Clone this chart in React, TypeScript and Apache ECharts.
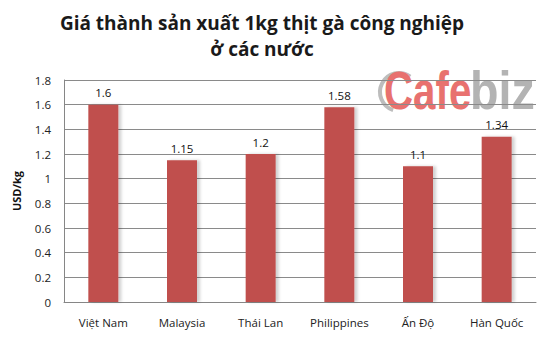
import React, { useEffect, useRef } from "react";
import * as echarts from "echarts";

const categories = ["Việt Nam", "Malaysia", "Thái Lan", "Philippines", "Ấn Độ", "Hàn Quốc"];
const values = [1.6, 1.15, 1.2, 1.58, 1.1, 1.34];
const titleLines = ["Giá thành sản xuất 1kg thịt gà công nghiệp", "ở các nước"];
const yAxisName = "USD/kg";

const FONT = "'Open Sans', 'Noto Sans', sans-serif";

export default function App() {
  const ref = useRef<HTMLDivElement>(null);
  useEffect(() => {
    if (!ref.current) return;
    const chart = echarts.init(ref.current, null, { renderer: "svg" });
    chart.setOption({
      animation: false,
      backgroundColor: "#ffffff",
      title: {
        text: titleLines.join("\n"),
        left: 257,
        textAlign: "center",
        top: 5,
        textStyle: {
          fontFamily: FONT,
          fontSize: 19,
          fontWeight: "bold",
          color: "#1a1a1a",
          lineHeight: 26,
        },
      },
      graphic: [
        {
          type: "arc",
          z: 0,
          shape: { cx: 399, cy: 92, r: 19, startAngle: Math.PI * 0.6, endAngle: Math.PI * 1.7 },
          style: { stroke: "#bdbdbd", lineWidth: 4, fill: "none" },
        },
        {
          type: "text",
          z: 0,
          x: 384,
          y: 64,
          scaleX: 0.76,
          style: {
            text: "Cafe",
            fontFamily: "'Liberation Sans', sans-serif",
            fontSize: 53,
            fontWeight: "bold",
            fill: "#e8716f",
          },
        },
        {
          type: "text",
          z: 0,
          x: 470,
          y: 64,
          scaleX: 0.88,
          style: {
            text: "biz",
            fontFamily: "'Liberation Sans', sans-serif",
            fontSize: 53,
            fontWeight: "bold",
            fill: "#b3b3b3",
          },
        },
      ],
      grid: { left: 64, right: 12, top: 80, bottom: 41 },
      xAxis: {
        type: "category",
        data: categories,
        axisLine: { show: true, lineStyle: { color: "#868686", width: 1 } },
        axisTick: { show: false },
        axisLabel: { fontFamily: FONT, fontSize: 11.5, color: "#222", margin: 14, interval: 0 },
      },
      yAxis: {
        type: "value",
        min: 0,
        max: 1.8,
        interval: 0.2,
        name: yAxisName,
        nameLocation: "middle",
        nameGap: 42,
        nameTextStyle: { fontFamily: FONT, fontSize: 11, fontWeight: "bold", color: "#111" },
        axisLine: { show: true, lineStyle: { color: "#868686", width: 1 } },
        axisTick: { show: false },
        splitLine: { show: true, lineStyle: { color: "#8a8a8a", width: 1 } },
        axisLabel: {
          fontFamily: FONT,
          fontSize: 11.5,
          color: "#222",
          margin: 13,
          formatter: (v: number) => String(Math.round(v * 10) / 10),
        },
      },
      series: [
        {
          type: "bar",
          data: values,
          barWidth: 30,
          z: 3,
          itemStyle: {
            color: "#c0504d",
            shadowColor: "rgba(0,0,0,0.18)",
            shadowBlur: 3,
            shadowOffsetX: 3,
            shadowOffsetY: 0,
          },
          label: {
            show: true,
            position: "top",
            distance: 6,
            fontFamily: FONT,
            fontSize: 11.5,
            color: "#111",
          },
        },
      ],
    });
    return () => chart.dispose();
  }, []);
  return <div ref={ref} style={{ position: "fixed", left: 0, top: 0, width: 548, height: 343 }} />;
}
